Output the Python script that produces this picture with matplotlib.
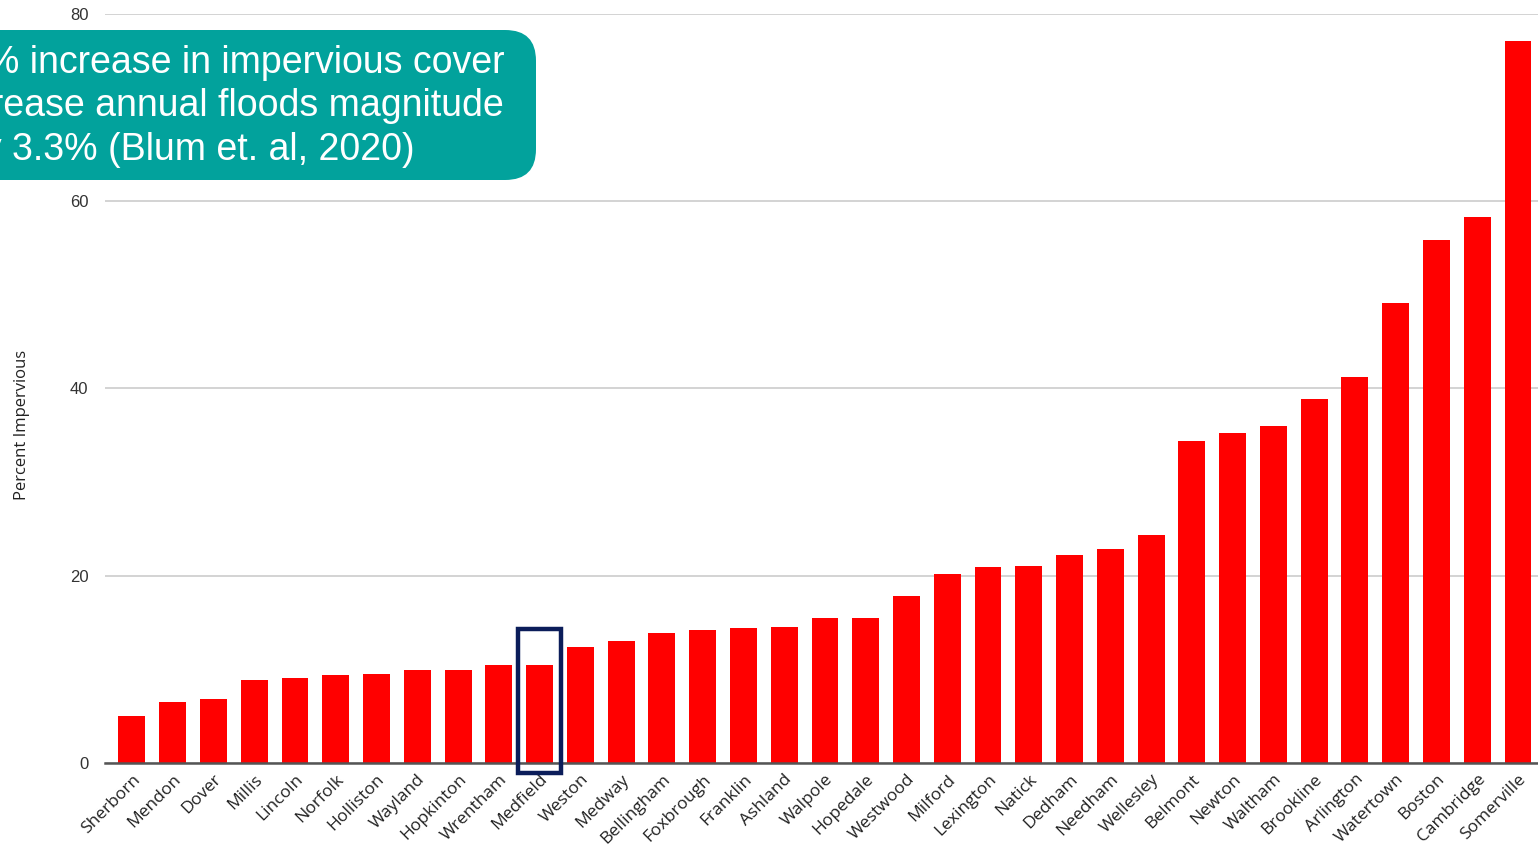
import matplotlib
matplotlib.use("Agg")
import matplotlib.pyplot as plt
from matplotlib.patches import FancyBboxPatch, Rectangle

towns = ["Sherborn", "Mendon", "Dover", "Millis", "Lincoln", "Norfolk", "Holliston",
         "Wayland", "Hopkinton", "Wrentham", "Medfield", "Weston", "Medway", "Bellingham",
         "Foxbrough", "Franklin", "Ashland", "Walpole", "Hopedale", "Westwood", "Milford",
         "Lexington", "Natick", "Dedham", "Needham", "Wellesley", "Belmont", "Newton",
         "Waltham", "Brookline", "Arlington", "Watertown", "Boston", "Cambridge", "Somerville"]
percent_impervious = [5.0, 6.5, 6.8, 8.9, 9.1, 9.4, 9.5, 9.9, 9.9, 10.5, 10.5, 12.4, 13.0,
                      13.9, 14.2, 14.4, 14.5, 15.5, 15.5, 17.8, 20.2, 20.9, 21.0, 22.2, 22.9,
                      24.4, 34.4, 35.3, 36.0, 38.9, 41.2, 49.1, 55.9, 58.3, 77.1]
y_ticks = [0, 20, 40, 60, 80]
highlight = "Medfield"
note_lines = ["1% increase in impervious cover",
              "increase annual floods magnitude",
              "by 3.3% (Blum et. al, 2020)"]

W, H = 1538, 855
fig = plt.figure(figsize=(W / 100, H / 100), dpi=100)
ax = fig.add_axes([105 / W, 1 - 763 / H, 1 - 105 / W, (763 - 14) / H])

x = list(range(len(towns)))
ax.bar(x, percent_impervious, width=0.66, color="#FF0000", zorder=3)

ax.set_xlim(-0.66, len(towns) - 1 + 0.49)
ax.set_ylim(0, 80)
ax.set_yticks(y_ticks)
ax.set_yticklabels([str(t) for t in y_ticks], fontsize=12, color="#333333",
                   fontfamily="Liberation Sans")
ax.yaxis.grid(True, color="#D3D3D3", linewidth=1.4, zorder=0)
ax.tick_params(axis="y", length=0, pad=12)
ax.set_xticks(x)
ax.set_xticklabels(towns, rotation=45, ha="right", rotation_mode="anchor",
                   fontsize=12.5, color="#222222", fontfamily="Open Sans")
ax.tick_params(axis="x", length=0, pad=6)
for s in ["top", "right", "left"]:
    ax.spines[s].set_visible(False)
ax.spines["bottom"].set_color("#555555")
ax.spines["bottom"].set_linewidth(1.8)
ax.spines["bottom"].set_zorder(4)

# highlight box around Medfield
hi = towns.index(highlight)
ax.add_patch(Rectangle((hi - 0.52, -1.1), 1.04, 15.4, fill=False, edgecolor="#0B1D5A",
                       linewidth=3.2, clip_on=False, zorder=5))

fig.text(22 / W, 1 - 425 / H, "Percent Impervious", rotation=90, ha="center", va="center",
         fontsize=12, color="#222222", fontfamily="Open Sans")

# annotation box
box = FancyBboxPatch((-40 / W, 1 - 180 / H), (536 + 40) / W, 150 / H,
                     boxstyle="round,pad=0,rounding_size=0.02", transform=fig.transFigure,
                     facecolor="#02A29C", edgecolor="none", mutation_aspect=W / H)
fig.patches.append(box)
line_right = [505, 504, 415]
line_y = [63, 106, 150]
for txt, xr, yc in zip(note_lines, line_right, line_y):
    fig.text(xr / W, 1 - yc / H, txt, ha="right", va="center", fontsize=27,
             color="white", fontfamily="Liberation Sans")

fig.savefig("out.png", dpi=100)
